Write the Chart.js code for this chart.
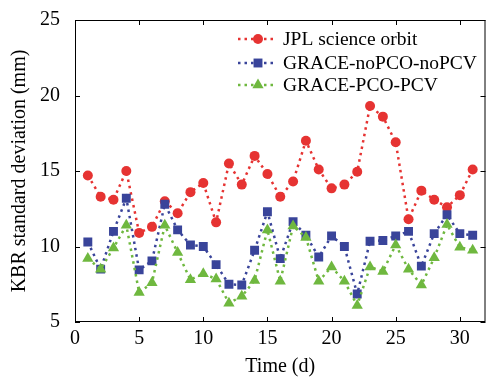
<!DOCTYPE html>
<html>
<head>
<meta charset="utf-8">
<script src="https://cdn.jsdelivr.net/npm/chart.js@4.4.1/dist/chart.umd.min.js"></script>
<style>
  html, body { margin: 0; padding: 0; background: #fff; }
  #wrap { width: 492px; height: 380px; }
</style>
</head>
<body>
<div id="wrap"><canvas id="chart" width="492" height="380"></canvas></div>
<script>
// Days of the month
const days = [1, 2, 3, 4, 5, 6, 7, 8, 9, 10, 11, 12, 13, 14, 15, 16, 17, 18, 19, 20,
              21, 22, 23, 24, 25, 26, 27, 28, 29, 30, 31];

// KBR standard deviation (mm)
const jplOrbit = [14.7, 13.3, 13.1, 15.0, 10.9, 11.3, 13.0, 12.2, 13.6, 14.2,
                  11.6, 15.5, 14.1, 16.0, 14.8, 13.3, 14.3, 17.0, 15.1, 13.85,
                  14.1, 14.95, 19.3, 18.6, 16.9, 11.8, 13.7, 13.1, 12.6, 13.4, 15.1];
const noPcoNoPcv = [10.3, 8.5, 11.0, 13.2, 8.45, 9.05, 12.8, 11.1, 10.1, 10.0,
                    8.8, 7.5, 7.45, 9.75, 12.3, 9.2, 11.65, 10.75, 9.3, 10.7,
                    10.0, 6.85, 10.35, 10.4, 10.7, 11.0, 8.7, 10.85, 12.1, 10.85, 10.75];
const pcoPcv = [9.2, 8.5, 9.9, 11.4, 6.95, 7.6, 11.4, 9.6, 7.8, 8.2,
                7.85, 6.25, 6.7, 7.75, 11.1, 7.7, 11.35, 10.6, 7.7, 8.65,
                7.7, 6.1, 8.65, 8.35, 10.1, 8.5, 7.45, 9.25, 11.45, 9.95, 9.75];

const seriesLabels = ['JPL science orbit', 'GRACE-noPCO-noPCV', 'GRACE-PCO-PCV'];
const xTicks = [0, 5, 10, 15, 20, 25, 30];
const yTicks = [5, 10, 15, 20, 25];

const RED = '#e63332';
const BLUE = '#39449a';
const GREEN = '#6fb83f';
const FONT = '"Liberation Serif", "Times New Roman", serif';

function toPoints(ys) {
    return days.map((d, i) => ({ x: d, y: ys[i] }));
}

function makeSet(label, ys, color, shape, radius, order) {
    return {
        label: label,
        data: toPoints(ys),
        borderColor: color,
        backgroundColor: color,
        pointBackgroundColor: color,
        pointBorderColor: color,
        pointBorderWidth: 0,
        pointStyle: shape,
        pointRadius: radius,
        pointHoverRadius: radius,
        borderWidth: 2.5,
        borderDash: [2.5, 4],
        tension: 0,
        order: order
    };
}

// Inward ticks on all four sides, box frame, and the legend inside the plot
const framePlugin = {
    id: 'frame',
    afterDraw(chart) {
        const ctx = chart.ctx;
        const a = chart.chartArea;
        const xs = chart.scales.x;
        const ys = chart.scales.y;
        ctx.save();
        ctx.strokeStyle = '#000';
        ctx.lineWidth = 1;
        ctx.strokeRect(a.left + 0.5, a.top + 0.5, a.right - a.left - 1, a.bottom - a.top - 1);
        ctx.beginPath();
        xTicks.forEach(v => {
            const px = Math.round(xs.getPixelForValue(v)) + 0.5;
            ctx.moveTo(px, a.bottom); ctx.lineTo(px, a.bottom - 5);
            ctx.moveTo(px, a.top); ctx.lineTo(px, a.top + 5);
        });
        yTicks.forEach(v => {
            const py = Math.round(ys.getPixelForValue(v)) + 0.5;
            ctx.moveTo(a.left, py); ctx.lineTo(a.left + 5, py);
            ctx.moveTo(a.right, py); ctx.lineTo(a.right - 5, py);
        });
        ctx.stroke();

        // legend
        const rows = [39, 63, 85];
        chart.data.datasets.forEach((ds, i) => {
            const y = rows[i];
            ctx.save();
            ctx.strokeStyle = ds.borderColor;
            ctx.lineWidth = 2.5;
            ctx.setLineDash([2.5, 4]);
            ctx.beginPath();
            ctx.moveTo(238, y); ctx.lineTo(277, y);
            ctx.stroke();
            ctx.restore();
            ctx.fillStyle = ds.backgroundColor;
            Chart.helpers.drawPoint(ctx, {
                pointStyle: ds.pointStyle,
                radius: ds.pointRadius,
                borderWidth: 0
            }, 258, y);
            ctx.fillStyle = '#000';
            ctx.font = '19.5px ' + FONT;
            ctx.textBaseline = 'middle';
            ctx.textAlign = 'left';
            ctx.fillText(ds.label, 283, y + 1);
        });
        ctx.restore();
    }
};

new Chart(document.getElementById('chart').getContext('2d'), {
    type: 'line',
    data: {
        datasets: [
            makeSet(seriesLabels[0], jplOrbit, RED, 'circle', 5, 3),
            makeSet(seriesLabels[1], noPcoNoPcv, BLUE, 'rect', 6.3, 2),
            makeSet(seriesLabels[2], pcoPcv, GREEN, 'triangle', 6.5, 1)
        ]
    },
    options: {
        responsive: false,
        animation: false,
        events: [],
        layout: { padding: { left: 0, right: 4, top: 20, bottom: 0 } },
        plugins: {
            legend: { display: false },
            tooltip: { enabled: false }
        },
        scales: {
            x: {
                type: 'linear',
                min: 0,
                max: 32,
                grid: { display: false },
                border: { display: false },
                afterBuildTicks: scale => {
                    scale.ticks = xTicks.map(v => ({ value: v }));
                },
                afterFit: scale => { scale.height = 58; },
                ticks: {
                    color: '#000',
                    padding: -3,
                    maxRotation: 0,
                    font: { family: FONT, size: 20 }
                },
                title: {
                    display: true,
                    text: 'Time (d)',
                    color: '#000',
                    padding: { top: 0, bottom: 1 },
                    font: { family: FONT, size: 20 }
                }
            },
            y: {
                type: 'linear',
                min: 5,
                max: 25,
                grid: { display: false },
                border: { display: false },
                afterBuildTicks: scale => {
                    scale.ticks = yTicks.map(v => ({ value: v }));
                },
                afterFit: scale => { scale.width = 75; },
                ticks: {
                    color: '#000',
                    padding: 7,
                    font: { family: FONT, size: 20 }
                },
                title: {
                    display: true,
                    text: 'KBR standard deviation (mm)',
                    color: '#000',
                    padding: { top: 8, bottom: 0 },
                    font: { family: FONT, size: 20 }
                }
            }
        }
    },
    plugins: [framePlugin]
});
</script>
</body>
</html>
